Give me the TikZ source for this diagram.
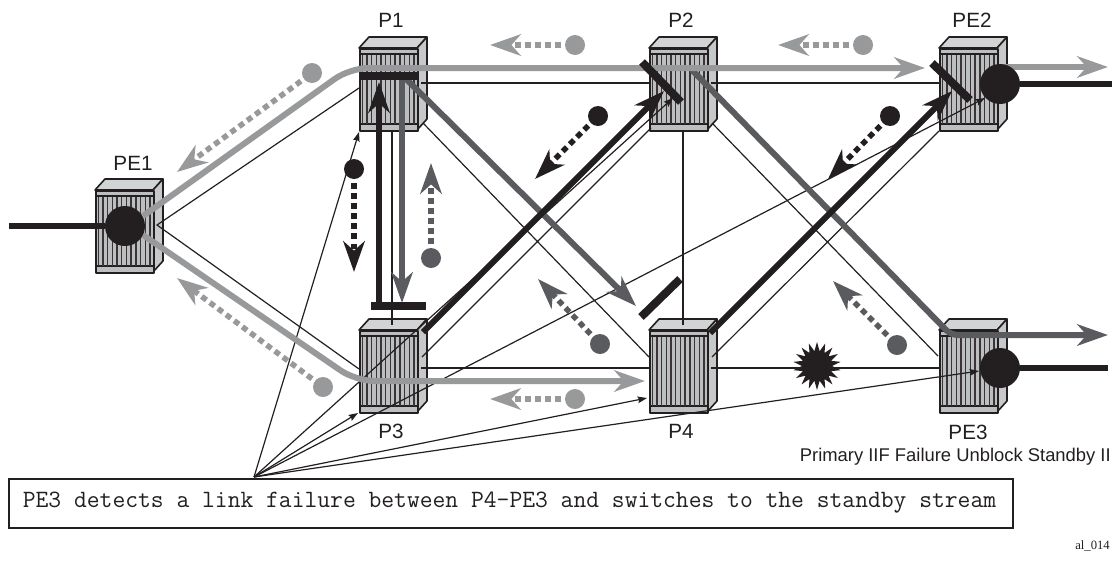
\documentclass[tikz,border=0pt]{standalone}
\usepackage{fontspec}
\setmainfont{Liberation Sans}
\newfontfamily\serifcode{Liberation Serif}
\usetikzlibrary{arrows.meta,shapes.geometric}
\definecolor{inkc}{HTML}{231F20}
\definecolor{lightc}{HTML}{98999B}
\definecolor{darkc}{HTML}{5A5B5E}
\definecolor{facec}{HTML}{BDBEC0}
\definecolor{topc}{HTML}{D2D3D5}
\tikzset{
  px/.style={line width=#1*0.75pt},
  linkline/.style={draw=inkc,px=1.2},
  bigtip/.style={-{Stealth[length=23pt,width=16pt,inset=7pt]}},
  thick path/.style={px=6,line join=round,rounded corners=5pt},
  smalltip/.style={-{Stealth[length=7pt,width=5pt,inset=1pt]}},
  callout/.style={draw=inkc,px=1.2,smalltip},
  barrier/.style={draw=inkc,px=8},
  blob/.style={circle,fill=inkc,inner sep=0pt,minimum size=40*0.75pt},
  dotnode/.style={circle,fill=#1,inner sep=0pt,minimum size=20*0.75pt},
  dotted arrow/.style={draw=#1,px=5.5,dash pattern=on 4.4pt off 3.2pt,
    -{Stealth[length=23pt,width=16pt,inset=7pt]}},
  label/.style={inner sep=0pt,text=inkc,font=\fontsize{15.5}{15.5}\selectfont},
  routerface/.style={draw=inkc,px=1.6,line join=round},
}
\newcommand{\router}[3]{%
  \path[routerface,fill=topc] (#2,#3) -- (#2+10,#3-11) -- (#2+68,#3-11) -- (#2+58,#3) -- cycle;
  \path[routerface,fill=facec!85!white] (#2+58,#3) -- (#2+68,#3-11) -- (#2+68,#3+71) -- (#2+58,#3+82) -- cycle;
  \node[routerface,fill=facec,minimum width=58*0.75pt,minimum height=82*0.75pt,inner sep=0pt,anchor=north west] (#1) at (#2,#3) {};
  \draw[draw=inkc,px=1.4] (#2,#3+6) -- (#2+58,#3+6) (#2,#3+76) -- (#2+58,#3+76);
  \foreach \k in {0,...,11}{
    \draw[draw=inkc!90,px=1.4] (#2+3.2+\k*4.7,#3+7) -- (#2+3.2+\k*4.7,#3+76);
  }
}
\newcommand{\dashflow}[6]{% name colour x1 y1 x2 y2
  \coordinate (#1tip) at (#5,#6);
  \node[dotnode=#2] (#1) at (#3,#4) {};
  \draw[dotted arrow=#2,shorten <=-5pt] (#1) -- (#1tip);
}
\begin{document}
\begin{tikzpicture}[x=0.75pt,y=-0.75pt]
\useasboundingbox (0,0) rectangle (1112,561);

% routers
\router{PE1}{95}{190}
\router{P1}{359}{48}
\router{P2}{649}{48}
\router{PE2}{939}{48}
\router{P3}{359}{330}
\router{P4}{649}{330}
\router{PE3}{939}{330}

% link ends
\coordinate (e1) at (157,225);
\coordinate (e2) at (359,88);
\coordinate (e3) at (359,369);
\coordinate (p1r) at (421,83);
\coordinate (p2l) at (649,83);
\coordinate (p2r) at (711,83);
\coordinate (pe2l) at (939,83);
\coordinate (p3r) at (421,368);
\coordinate (p4l) at (649,368);
\coordinate (p4r) at (711,368);
\coordinate (pe3l) at (939,368);
\coordinate (p1b) at (392,130);
\coordinate (p3t) at (392,325);
\coordinate (p2b) at (683,130);
\coordinate (p4t) at (683,325);
\coordinate (p1d) at (423,123);
\coordinate (p4u) at (649,357);
\coordinate (p3u) at (422,357);
\coordinate (p2d) at (651,128);
\coordinate (p2e) at (712,123);
\coordinate (pe3u) at (938,356);
\coordinate (p4e) at (712,357);
\coordinate (pe2d) at (939,131);

\draw[linkline] (e2) -- (e1) -- (e3);
\draw[linkline] (p1r) -- (p2l) (p2r) -- (pe2l);
\draw[linkline] (p3r) -- (p4l) (p4r) -- (pe3l);
\draw[linkline] (p1b) -- (p3t) (p2b) -- (p4t);
\draw[linkline] (p1d) -- (p4u) (p3u) -- (p2d);
\draw[linkline] (p2e) -- (pe3u) (p4e) -- (pe2d);

% failure
\node[star,star points=18,star point ratio=1.6,fill=inkc,inner sep=0pt,minimum size=48*0.75pt] (fail) at (817,366) {};

% callout
\node[draw=inkc,px=1.8,fill=white,minimum width=1004*0.75pt,minimum height=49*0.75pt,inner sep=0pt,anchor=north west] (note) at (8,478) {};
\node[inner sep=0pt,text=inkc,font=\ttfamily\fontsize{18.65}{18.65}\selectfont] (notetext) at (509.5,502.5) {PE3 detects a link failure between P4-PE3 and switches to the standby stream};
\coordinate (apex) at (254,477);
\coordinate (c1) at (359,132);
\coordinate (c2) at (673,98);
\coordinate (c3) at (985,98);
\coordinate (c4) at (358,413);
\coordinate (c5) at (647,398);
\coordinate (c6) at (979,371);
\foreach \t in {c1,c2,c3,c4,c5,c6} \draw[callout] (apex) -- (\t);

% dark gray stream
\coordinate (d0) at (402,78);
\coordinate (d1) at (402,303);
\coordinate (d2) at (405,78);
\coordinate (d3) at (636,306);
\coordinate (d4) at (692,70);
\coordinate (d5) at (951,335);
\coordinate (d6) at (1108,335);
\draw[draw=darkc,px=6,bigtip] (d0) -- (d1);
\draw[draw=darkc,px=6,bigtip] (d2) -- (d3);
\draw[draw=darkc,thick path,bigtip] (d4) -- (d5) -- (d6);

% light gray stream
\coordinate (l0) at (143,216);
\coordinate (l1) at (350,68);
\coordinate (l2) at (925,68);
\coordinate (l3) at (143,235);
\coordinate (l4) at (356,381);
\coordinate (l5) at (645,381);
\coordinate (l6) at (1000,67);
\coordinate (l7) at (1108,67);
\draw[draw=lightc,thick path,rounded corners=14pt,bigtip] (l0) -- (l1) -- (l2);
\draw[draw=lightc,thick path,rounded corners=14pt,bigtip] (l3) -- (l4) -- (l5);
\draw[draw=lightc,px=6,bigtip] (l6) -- (l7);

% black stream
\coordinate (k0) at (379,307);
\coordinate (k1) at (379,82);
\coordinate (k2) at (423,332);
\coordinate (k3) at (664,91);
\coordinate (k4) at (710,333);
\coordinate (k5) at (952,91);
\draw[draw=inkc,px=6,bigtip] (k0) -- (k1);
\draw[draw=inkc,px=6,bigtip] (k2) -- (k3);
\draw[draw=inkc,px=6,bigtip] (k4) -- (k5);

% barriers
\coordinate (b1a) at (359,76);
\coordinate (b1b) at (417,76);
\coordinate (b2a) at (642,62);
\coordinate (b2b) at (681,102);
\coordinate (b3a) at (932,63);
\coordinate (b3b) at (970,100);
\coordinate (b4a) at (371,306);
\coordinate (b4b) at (426,306);
\coordinate (b5a) at (641,317);
\coordinate (b5b) at (680,279);
\draw[barrier] (b1a) -- (b1b);
\draw[barrier] (b2a) -- (b2b);
\draw[barrier] (b3a) -- (b3b);
\draw[barrier] (b4a) -- (b4b);
\draw[barrier] (b5a) -- (b5b);

% receivers
\node[blob] (s1) at (125,226) {};
\coordinate (s1in) at (9,226);
\draw[draw=inkc,px=5.5] (s1in) -- (s1);
\node[blob] (r2) at (1000,84) {};
\coordinate (r2out) at (1112,84);
\draw[draw=inkc,px=5.5] (r2) -- (r2out);
\node[blob] (r3) at (1000,368) {};
\coordinate (r3out) at (1108,368);
\draw[draw=inkc,px=5.5] (r3) -- (r3out);

% control flows
\dashflow{f1}{lightc}{575}{45}{490}{45}
\dashflow{f2}{lightc}{863}{45}{778}{45}
\dashflow{f3}{lightc}{312}{73}{177}{172}
\dashflow{f4}{lightc}{323}{387}{177}{278}
\dashflow{f5}{lightc}{575}{399}{490}{399}
\dashflow{f6}{darkc}{431}{258}{431}{163}
\dashflow{f7}{darkc}{600}{344}{538}{279}
\dashflow{f8}{darkc}{897}{345}{833}{281}
\dashflow{f9}{inkc}{354}{169}{354}{272}
\dashflow{f10}{inkc}{598}{116}{535}{179}
\dashflow{f11}{inkc}{890}{116}{828}{179}

% labels
\node[label] (lP1) at (391,20) {P1};
\node[label] (lP2) at (681,20) {P2};
\node[label] (lPE2) at (972,20) {PE2};
\node[label] (lPE1) at (133,163) {PE1};
\node[label] (lP3) at (391,431) {P3};
\node[label] (lP4) at (681,431) {P4};
\node[label] (lPE3) at (968,432) {PE3};
\node[inner sep=0pt,anchor=east,text=inkc,font=\fontsize{13.8}{13.8}\selectfont] (lstandby) at (1111,457) {Primary IIF Failure Unblock Standby II};
\node[inner sep=0pt,anchor=east,text=inkc,font=\serifcode\fontsize{9.5}{9.5}\selectfont] (lcode) at (1110,546) {al\_014};
\end{tikzpicture}
\end{document}
